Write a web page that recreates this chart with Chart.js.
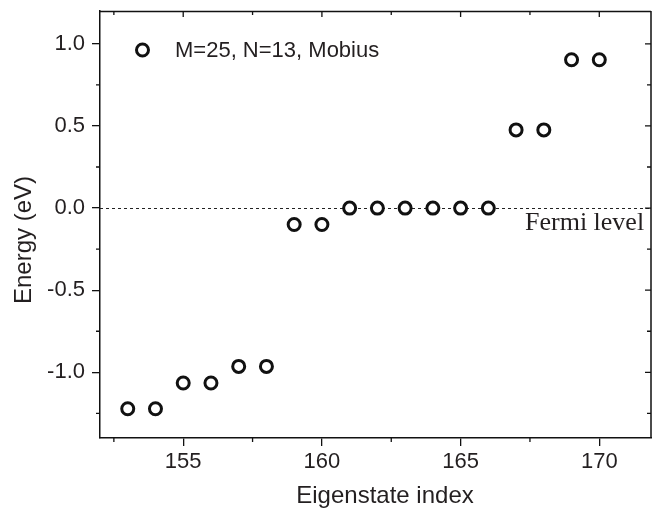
<!DOCTYPE html>
<html>
<head>
<meta charset="utf-8">
<script src="https://cdn.jsdelivr.net/npm/chart.js@4"></script>
<style>
html,body{margin:0;padding:0;background:#fff;overflow:hidden;}
#wrap{width:652px;height:511px;position:relative;}
</style>
</head>
<body>
<div id="wrap"><canvas id="c"></canvas></div>
<script>
const eigenIndex = [153,154,155,156,157,158,159,160,161,162,163,164,165,166,167,168,169,170];
const energyEV   = [-1.222,-1.222,-1.065,-1.065,-0.964,-0.964,-0.10,-0.10,0,0,0,0,0,0,0.476,0.476,0.903,0.903];
const xMajorTicks = [155,160,165,170];
const xMinorTicks = [152.5,157.5,162.5,167.5];
const yMajorTicks = [-1.0,-0.5,0.0,0.5,1.0];
const yMinorTicks = [-1.25,-0.75,-0.25,0.25,0.75];
const seriesLabel = 'M=25, N=13, Mobius';
const xTitle = 'Eigenstate index';
const yTitle = 'Energy (eV)';
const refLabel = 'Fermi level';
const refValue = 0;

const SANS = '"Liberation Sans", Arial, sans-serif';
const SERIF = '"Liberation Serif", "Times New Roman", serif';
const TXT = '#231f20';

const points = eigenIndex.map((x,i)=>({x:x,y:energyEV[i]}));

const decor = {
  id:'decor',
  beforeDatasetsDraw(chart){
    const ctx = chart.ctx, a = chart.chartArea;
    const ys = chart.scales.y;
    const y0 = ys.getPixelForValue(refValue);
    ctx.save();
    ctx.strokeStyle = '#222';
    ctx.lineWidth = 1;
    ctx.setLineDash([3,3]);
    ctx.beginPath();
    ctx.moveTo(a.left, Math.round(y0)+0.5);
    ctx.lineTo(a.right, Math.round(y0)+0.5);
    ctx.stroke();
    ctx.restore();
  },
  afterDraw(chart){
    const ctx = chart.ctx, a = chart.chartArea;
    const xs = chart.scales.x, ys = chart.scales.y;
    ctx.save();
    ctx.strokeStyle = '#111';
    ctx.lineWidth = 1.5;
    ctx.beginPath();
    ctx.moveTo(a.left, a.top+0.5); ctx.lineTo(a.right-1, a.top+0.5);
    ctx.moveTo(a.right-1, a.top); ctx.lineTo(a.right-1, a.bottom);
    ctx.stroke();
    ctx.lineWidth = 1.3;
    ctx.beginPath();
    xMinorTicks.forEach(v=>{const p=xs.getPixelForValue(v); ctx.moveTo(p,a.bottom); ctx.lineTo(p,a.bottom+4);});
    yMinorTicks.forEach(v=>{const p=ys.getPixelForValue(v); ctx.moveTo(a.left,p); ctx.lineTo(a.left-4,p);});
    xMajorTicks.forEach(v=>{const p=xs.getPixelForValue(v); ctx.moveTo(p,a.top); ctx.lineTo(p,a.top+6);});
    xMinorTicks.forEach(v=>{const p=xs.getPixelForValue(v); ctx.moveTo(p,a.top); ctx.lineTo(p,a.top+4);});
    yMajorTicks.forEach(v=>{const p=ys.getPixelForValue(v); ctx.moveTo(a.right-1,p); ctx.lineTo(a.right-7,p);});
    yMinorTicks.forEach(v=>{const p=ys.getPixelForValue(v); ctx.moveTo(a.right-1,p); ctx.lineTo(a.right-5,p);});
    ctx.stroke();

    // legend
    ctx.beginPath();
    ctx.lineWidth = 3;
    ctx.strokeStyle = '#111';
    ctx.fillStyle = '#fff';
    ctx.arc(142.5, 50, 6, 0, Math.PI*2);
    ctx.fill(); ctx.stroke();
    ctx.fillStyle = TXT;
    ctx.font = '22px ' + SANS;
    ctx.textAlign = 'left';
    ctx.textBaseline = 'middle';
    ctx.fillText(seriesLabel, 175, 51);

    ctx.font = '26px ' + SERIF;
    ctx.textBaseline = 'alphabetic';
    ctx.fillText(refLabel, 525, 230);

    ctx.font = '24px ' + SANS;
    ctx.textAlign = 'center';
    ctx.fillText(xTitle, 385, 503);
    ctx.translate(31, 240);
    ctx.rotate(-Math.PI/2);
    ctx.fillText(yTitle, 0, 0);
    ctx.restore();
  }
};

new Chart(document.getElementById('c'), {
  type:'scatter',
  data:{datasets:[{
    label: seriesLabel,
    data: points,
    showLine:false,
    pointStyle:'circle',
    pointRadius:6,
    pointHoverRadius:6,
    pointBorderWidth:3,
    borderColor:'#111',
    backgroundColor:'#fff'
  }]},
  options:{
    responsive:true,
    maintainAspectRatio:false,
    animation:false,
    events:[],
    layout:{autoPadding:false, padding:{top:11,right:0,left:0,bottom:0}},
    plugins:{legend:{display:false},tooltip:{enabled:false}},
    scales:{
      x:{
        type:'linear', min:152, max:171.9,
        afterBuildTicks(s){ s.ticks = xMajorTicks.map(v=>({value:v})); },
        afterFit(s){ s.height = 73; s.paddingLeft = 0; s.paddingRight = 0; },
        grid:{drawOnChartArea:false, drawTicks:true, tickLength:8, color:'#111', lineWidth:1.3},
        border:{display:true, color:'#111', width:1.5},
        ticks:{font:{family:SANS,size:22}, color:TXT, padding:3, maxRotation:0, autoSkip:false,
               callback:(v)=>String(v)}
      },
      y:{
        type:'linear', min:-1.4, max:1.2,
        afterBuildTicks(s){ s.ticks = yMajorTicks.map(v=>({value:v})); },
        afterFit(s){ s.width = 100; s.paddingTop = 0; s.paddingBottom = 0; },
        grid:{drawOnChartArea:false, drawTicks:true, tickLength:8, color:'#111', lineWidth:1.3},
        border:{display:true, color:'#111', width:1.5},
        ticks:{font:{family:SANS,size:22}, color:TXT, padding:7, autoSkip:false,
               callback:(v)=>Number(v).toFixed(1)}
      }
    }
  },
  plugins:[decor]
});
</script>
</body>
</html>
